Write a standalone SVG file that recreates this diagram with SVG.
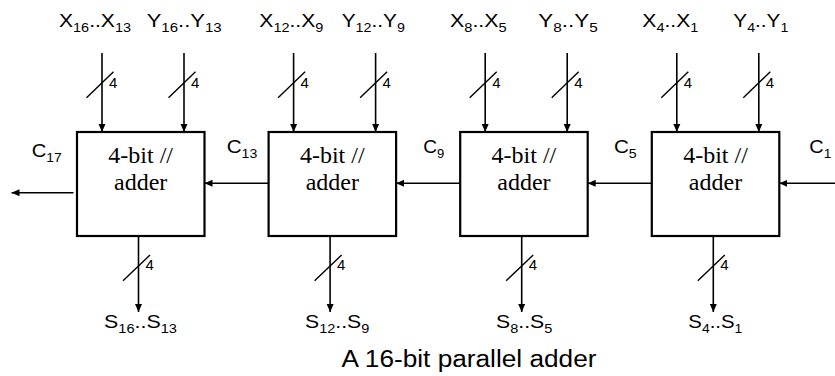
<svg xmlns="http://www.w3.org/2000/svg" width="835" height="376" viewBox="0 0 835 376">
<style>
.box{fill:#fff;stroke:#000;stroke-width:2.2}
.ln{stroke:#000;stroke-width:1.6;fill:none}
.sl{stroke:#000;stroke-width:1.4;fill:none}
.lbl{font-family:"Liberation Sans",Arial,sans-serif;font-size:19px;fill:#000}
.sub{font-size:13px}
.w{font-family:"Liberation Sans",Arial,sans-serif;font-size:15px;fill:#000}
.bt{font-family:"Liberation Serif","DejaVu Serif","Noto Serif",serif;font-size:24px;fill:#000;text-anchor:middle}
.cap{font-family:"Liberation Sans",Arial,sans-serif;font-size:23px;fill:#000}
</style>
<defs>
<marker id="ah" markerWidth="8" markerHeight="8" refX="8" refY="4" orient="auto" markerUnits="userSpaceOnUse">
<path d="M0,0.5 L8,4 L0,7.5 z" fill="#000"/>
</marker>
</defs>

<g id="connectors">
<line class="ln" x1="102" y1="53" x2="102" y2="132" marker-end="url(#ah)"/>
<line class="ln" x1="184" y1="53" x2="184" y2="132" marker-end="url(#ah)"/>
<line class="ln" x1="293.6" y1="53" x2="293.6" y2="132" marker-end="url(#ah)"/>
<line class="ln" x1="375.6" y1="53" x2="375.6" y2="132" marker-end="url(#ah)"/>
<line class="ln" x1="485.2" y1="53" x2="485.2" y2="132" marker-end="url(#ah)"/>
<line class="ln" x1="567.2" y1="53" x2="567.2" y2="132" marker-end="url(#ah)"/>
<line class="ln" x1="676.8" y1="53" x2="676.8" y2="132" marker-end="url(#ah)"/>
<line class="ln" x1="758.8" y1="53" x2="758.8" y2="132" marker-end="url(#ah)"/>
<line class="sl" x1="86.5" y1="97.7" x2="113.5" y2="71.7"/>
<line class="sl" x1="168.5" y1="97.7" x2="195.5" y2="71.7"/>
<line class="sl" x1="278.1" y1="97.7" x2="305.1" y2="71.7"/>
<line class="sl" x1="360.1" y1="97.7" x2="387.1" y2="71.7"/>
<line class="sl" x1="469.7" y1="97.7" x2="496.7" y2="71.7"/>
<line class="sl" x1="551.7" y1="97.7" x2="578.7" y2="71.7"/>
<line class="sl" x1="661.3" y1="97.7" x2="688.3" y2="71.7"/>
<line class="sl" x1="743.3" y1="97.7" x2="770.3" y2="71.7"/>
<line class="ln" x1="138.5" y1="236" x2="138.5" y2="312" marker-end="url(#ah)"/>
<line class="ln" x1="330.1" y1="236" x2="330.1" y2="312" marker-end="url(#ah)"/>
<line class="ln" x1="521.7" y1="236" x2="521.7" y2="312" marker-end="url(#ah)"/>
<line class="ln" x1="713.3" y1="236" x2="713.3" y2="312" marker-end="url(#ah)"/>
<line class="sl" x1="123" y1="280.7" x2="150" y2="255"/>
<line class="sl" x1="314.6" y1="280.7" x2="341.6" y2="255"/>
<line class="sl" x1="506.2" y1="280.7" x2="533.2" y2="255"/>
<line class="sl" x1="697.8" y1="280.7" x2="724.8" y2="255"/>
<line class="ln" x1="835" y1="183.3" x2="779.3" y2="183.3" marker-end="url(#ah)"/>
<line class="ln" x1="651.8" y1="183.3" x2="587.7" y2="183.3" marker-end="url(#ah)"/>
<line class="ln" x1="460.2" y1="183.3" x2="396.1" y2="183.3" marker-end="url(#ah)"/>
<line class="ln" x1="268.6" y1="183.3" x2="204.5" y2="183.3" marker-end="url(#ah)"/>
<line class="ln" x1="73.5" y1="192.7" x2="11.5" y2="192.7" marker-end="url(#ah)"/>
</g>

<g id="adder4">
<rect class="box" x="77" y="132" width="127.5" height="104"/>
<text class="bt" font-family="'Liberation Serif','DejaVu Serif',serif" x="140.7" y="162.7">4-bit //</text>
<text class="bt" font-family="'Liberation Serif','DejaVu Serif',serif" x="140.7" y="190">adder</text>
</g>
<g id="adder3">
<rect class="box" x="268.6" y="132" width="127.5" height="104"/>
<text class="bt" font-family="'Liberation Serif','DejaVu Serif',serif" x="332.3" y="162.7">4-bit //</text>
<text class="bt" font-family="'Liberation Serif','DejaVu Serif',serif" x="332.3" y="190">adder</text>
</g>
<g id="adder2">
<rect class="box" x="460.2" y="132" width="127.5" height="104"/>
<text class="bt" font-family="'Liberation Serif','DejaVu Serif',serif" x="523.9" y="162.7">4-bit //</text>
<text class="bt" font-family="'Liberation Serif','DejaVu Serif',serif" x="523.9" y="190">adder</text>
</g>
<g id="adder1">
<rect class="box" x="651.8" y="132" width="127.5" height="104"/>
<text class="bt" font-family="'Liberation Serif','DejaVu Serif',serif" x="715.5" y="162.7">4-bit //</text>
<text class="bt" font-family="'Liberation Serif','DejaVu Serif',serif" x="715.5" y="190">adder</text>
</g>

<g id="width-labels">
<text class="w" x="109" y="87.5">4</text>
<text class="w" x="191" y="87.5">4</text>
<text class="w" x="300.6" y="87.5">4</text>
<text class="w" x="382.6" y="87.5">4</text>
<text class="w" x="492.2" y="87.5">4</text>
<text class="w" x="574.2" y="87.5">4</text>
<text class="w" x="683.8" y="87.5">4</text>
<text class="w" x="765.8" y="87.5">4</text>
<text class="w" x="145.5" y="270">4</text>
<text class="w" x="337.1" y="270">4</text>
<text class="w" x="528.7" y="270">4</text>
<text class="w" x="720.3" y="270">4</text>
</g>

<g id="input-labels">
<text class="lbl" x="59" y="26.5" textLength="72" lengthAdjust="spacingAndGlyphs">X<tspan class="sub" dy="5">16</tspan><tspan dy="-5">..X</tspan><tspan class="sub" dy="5">13</tspan></text>
<text class="lbl" x="146.7" y="26.5" textLength="75" lengthAdjust="spacingAndGlyphs">Y<tspan class="sub" dy="5">16</tspan><tspan dy="-5">..Y</tspan><tspan class="sub" dy="5">13</tspan></text>
<text class="lbl" x="259.3" y="26.5" textLength="64" lengthAdjust="spacingAndGlyphs">X<tspan class="sub" dy="5">12</tspan><tspan dy="-5">..X</tspan><tspan class="sub" dy="5">9</tspan></text>
<text class="lbl" x="341.7" y="26.5" textLength="63.3" lengthAdjust="spacingAndGlyphs">Y<tspan class="sub" dy="5">12</tspan><tspan dy="-5">..Y</tspan><tspan class="sub" dy="5">9</tspan></text>
<text class="lbl" x="450" y="26.5" textLength="56.7" lengthAdjust="spacingAndGlyphs">X<tspan class="sub" dy="5">8</tspan><tspan dy="-5">..X</tspan><tspan class="sub" dy="5">5</tspan></text>
<text class="lbl" x="538.3" y="26.5" textLength="59.4" lengthAdjust="spacingAndGlyphs">Y<tspan class="sub" dy="5">8</tspan><tspan dy="-5">..Y</tspan><tspan class="sub" dy="5">5</tspan></text>
<text class="lbl" x="642.3" y="26.5" textLength="56" lengthAdjust="spacingAndGlyphs">X<tspan class="sub" dy="5">4</tspan><tspan dy="-5">..X</tspan><tspan class="sub" dy="5">1</tspan></text>
<text class="lbl" x="733.3" y="26.5" textLength="55" lengthAdjust="spacingAndGlyphs">Y<tspan class="sub" dy="5">4</tspan><tspan dy="-5">..Y</tspan><tspan class="sub" dy="5">1</tspan></text>
</g>

<g id="output-labels">
<text class="lbl" x="104" y="327.5" textLength="73" lengthAdjust="spacingAndGlyphs">S<tspan class="sub" dy="5">16</tspan><tspan dy="-5">..S</tspan><tspan class="sub" dy="5">13</tspan></text>
<text class="lbl" x="305" y="327.5" textLength="64.3" lengthAdjust="spacingAndGlyphs">S<tspan class="sub" dy="5">12</tspan><tspan dy="-5">..S</tspan><tspan class="sub" dy="5">9</tspan></text>
<text class="lbl" x="496" y="327.5" textLength="56.3" lengthAdjust="spacingAndGlyphs">S<tspan class="sub" dy="5">8</tspan><tspan dy="-5">..S</tspan><tspan class="sub" dy="5">5</tspan></text>
<text class="lbl" x="688.3" y="327.5" textLength="54" lengthAdjust="spacingAndGlyphs">S<tspan class="sub" dy="5">4</tspan><tspan dy="-5">..S</tspan><tspan class="sub" dy="5">1</tspan></text>
</g>

<g id="carry-labels">
<text class="lbl" x="31.7" y="156.5" textLength="30" lengthAdjust="spacingAndGlyphs">C<tspan class="sub" dy="5">17</tspan></text>
<text class="lbl" x="226.7" y="153" textLength="30.6" lengthAdjust="spacingAndGlyphs">C<tspan class="sub" dy="5">13</tspan></text>
<text class="lbl" x="423.3" y="153" textLength="21" lengthAdjust="spacingAndGlyphs">C<tspan class="sub" dy="5">9</tspan></text>
<text class="lbl" x="614" y="153" textLength="22.7" lengthAdjust="spacingAndGlyphs">C<tspan class="sub" dy="5">5</tspan></text>
<text class="lbl" x="809.3" y="153" textLength="22" lengthAdjust="spacingAndGlyphs">C<tspan class="sub" dy="5">1</tspan></text>
</g>

<text id="caption" class="cap" x="341.5" y="367" textLength="255" lengthAdjust="spacingAndGlyphs">A 16-bit parallel adder</text>
</svg>
